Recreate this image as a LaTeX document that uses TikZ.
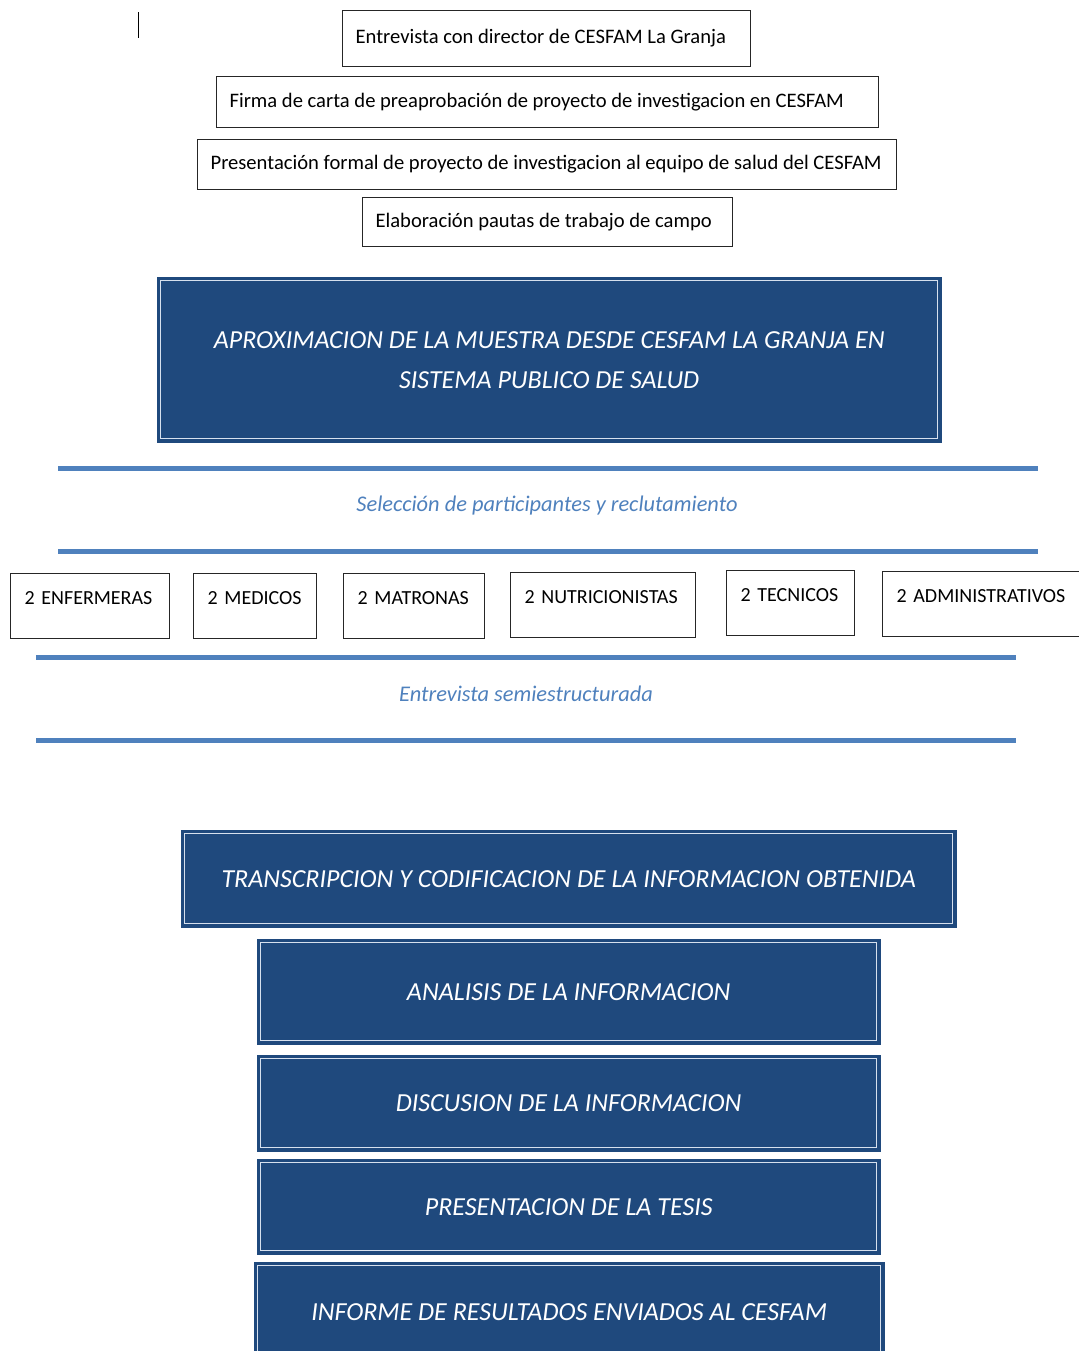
\documentclass[tikz,border=0pt]{standalone}
\usepackage{fontspec}
\setmainfont{Carlito}
\definecolor{stageblue}{RGB}{31,73,125}
\definecolor{stageedge}{RGB}{214,224,238}
\definecolor{ruleblue}{RGB}{79,129,189}
\tikzset{
  stepbox/.style={draw=black!85,line width=0.6pt,anchor=north west,inner xsep=6.5pt,
    inner ysep=0pt,font=\fontsize{10.3}{12}\selectfont},
  stage/.style={fill=stageblue,draw=stageblue,line width=1.7pt,double=stageedge,
    double distance=0.55pt,anchor=north west,inner sep=0pt,text=white,align=center,
    font=\fontsize{13}{20}\selectfont\itshape},
  staff/.style={draw=black!85,line width=0.6pt,anchor=north west,align=left,
    inner xsep=7pt,inner ysep=7pt,text height=8.2pt,text depth=10.3pt,
    font=\fontsize{10}{12}\selectfont},
  phase/.style={text=ruleblue,font=\fontsize{11.2}{13}\selectfont\itshape},
  band/.style={ruleblue,line width=2.5pt}
}
\newcommand{\stepnode}[6]{%
  \node[stepbox,minimum height=#5pt] (#1) at (#2,#3) {\makebox[#4pt][l]{#6}};
}
\newcommand{\staffbox}[5]{%
  \node[staff,text width=#4pt] (#1) at (#2,#3) {#5};
}

\begin{document}
\begin{tikzpicture}[x=0.5pt,y=-0.5pt]
    \useasboundingbox (0,0) rectangle (1079,1351);
    \draw[black,line width=0.5pt] (138,12) -- (138,38);
    % preparatory steps
    \stepnode{entrevista}{342}{10}{191}{28}{Entrevista con director de CESFAM La Granja}
    \stepnode{firma}{216}{76}{318}{25.5}{Firma de carta de preaprobación de proyecto de investigacion en CESFAM}
    \stepnode{presentacion}{197}{139}{336.5}{25}{Presentación formal de proyecto de investigacion al equipo de salud del CESFAM}
    \stepnode{pautas}{362}{197}{172}{24.5}{Elaboración pautas de trabajo de campo}
    \node[stage,minimum width=388.5pt,minimum height=79pt] (muestra) at (159,279)
      {APROXIMACION DE LA MUESTRA DESDE CESFAM LA GRANJA EN\\SISTEMA PUBLICO DE SALUD};
    % selection band
    \draw[band] (58,468) -- (1038,468);
    \node[phase] (seleccion) at (547,506) {Selección de participantes y reclutamiento};
    \draw[band] (58,551) -- (1038,551);
    \staffbox{enfermeras}{10}{573}{65.5}{2 ENFERMERAS}
    \staffbox{medicos}{193}{573}{47.5}{2 MEDICOS}
    \staffbox{matronas}{343}{573}{56.5}{2 MATRONAS}
    \staffbox{nutricionistas}{510}{572}{78.5}{2 NUTRICIONISTAS}
    \staffbox{tecnicos}{726}{570}{50}{2 TECNICOS}
    \staffbox{administrativos}{882}{571}{88.5}{2 ADMINISTRATIVOS}
    % interview band
    \draw[band] (36,657) -- (1016,657);
    \node[phase] (semi) at (526,694) {Entrevista semiestructurada};
    \draw[band] (36,740) -- (1016,740);
    % analysis stages
    \node[stage,minimum width=384pt,minimum height=45pt] (transcripcion) at (183,832)
      {TRANSCRIPCION Y CODIFICACION DE LA INFORMACION OBTENIDA};
    \node[stage,minimum width=308pt,minimum height=49pt] (analisis) at (259,941)
      {ANALISIS DE LA INFORMACION};
    \node[stage,minimum width=308pt,minimum height=44.5pt] (discusion) at (259,1057)
      {DISCUSION DE LA INFORMACION};
    \node[stage,minimum width=308pt,minimum height=44pt] (tesis) at (259,1161)
      {PRESENTACION DE LA TESIS};
    \node[stage,minimum width=311.5pt,minimum height=46pt] (informe) at (256,1264)
      {INFORME DE RESULTADOS ENVIADOS AL CESFAM};
  \end{tikzpicture}
\end{document}
